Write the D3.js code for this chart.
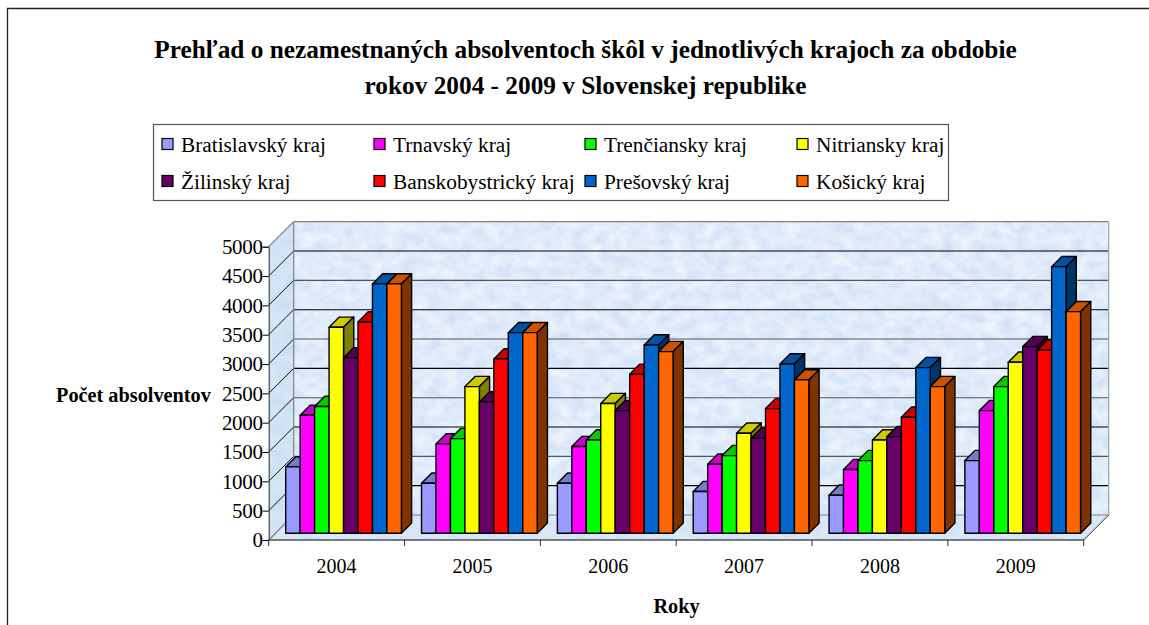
<!DOCTYPE html>
<html><head><meta charset="utf-8">
<script src="https://cdn.jsdelivr.net/npm/d3@7/dist/d3.min.js"></script>
<style>html,body{margin:0;padding:0;background:#fff}svg{display:block}text{font-family:"Liberation Serif",serif;fill:#000}</style>
</head><body><svg id="c" width="1149" height="625"></svg>
<script>
const years = ["2004","2005","2006","2007","2008","2009"];
const regions = ["Bratislavský kraj","Trnavský kraj","Trenčiansky kraj","Nitriansky kraj","Žilinský kraj","Banskobystrický kraj","Prešovský kraj","Košický kraj"];
const bratislavsky = [1130,852,852,710,648,1238];
const trnavsky = [2010,1522,1477,1176,1085,2090];
const trenciansky = [2160,1613,1590,1323,1238,2499];
const nitriansky = [3510,2499,2210,1704,1590,2914];
const zilinsky = [2990,2238,2090,1619,1647,3181];
const banskobystricky = [3600,2971,2709,2124,1977,3124];
const presovsky = [4250,3419,3209,2885,2823,4544];
const kosicky = [4250,3419,3096,2613,2499,3777];
const seriesValues = [bratislavsky,trnavsky,trenciansky,nitriansky,zilinsky,banskobystricky,presovsky,kosicky];
const frontColors = ["#9999ff","#ff00ff","#00ff00","#ffff00","#660066","#ff0000","#0066cc","#ff6600"];
const yTicks = [0,500,1000,1500,2000,2500,3000,3500,4000,4500,5000];

const svg = d3.select("#c");
const L=268.7,R=1083.7,B=540,T=246.7,DEPTH=25;
const y = d3.scaleLinear().domain([0,5000]).range([B,T]);
const x0 = d3.scaleBand().domain(years).range([L,R]);
const groupW = 115.7, barInset = 17;
const x1 = d3.scaleBand().domain(d3.range(8)).range([0,groupW]);
const FRONT=6.8, BACK=17;

// texture
const defs = svg.append("defs");
const f = defs.append("filter").attr("id","tex").attr("x",0).attr("y",0).attr("width","100%").attr("height","100%").attr("color-interpolation-filters","sRGB");
f.append("feTurbulence").attr("type","fractalNoise").attr("baseFrequency","0.07 0.09").attr("numOctaves",4).attr("seed",7).attr("result","n");
f.append("feColorMatrix").attr("in","n").attr("type","matrix").attr("values",
 "0.17 0.05 0 0 0.765  0.13 0 0 0 0.855  0.03 0 0 0 0.965  0 0 0 0 1");

const poly = pts => "M"+pts.map(p=>p.join(",")).join("L")+"Z";

// frame (top and left only)
svg.append("path").attr("d","M7.5,625V8.5H1149").attr("fill","none").attr("stroke","#222").attr("stroke-width",1.3);

const backX0=L+DEPTH, backX1=R+DEPTH;
// back wall
svg.append("rect").attr("x",backX0).attr("y",y(5000)-DEPTH).attr("width",backX1-backX0).attr("height",y(0)-y(5000)).attr("filter","url(#tex)");
// left wall & floor, same texture through a clip
const leftD = poly([[L,y(0)],[L,y(5000)],[backX0,y(5000)-DEPTH],[backX0,y(0)-DEPTH]]);
const floorD = poly([[L,y(0)],[R,y(0)],[backX1,y(0)-DEPTH],[backX0,y(0)-DEPTH]]);
defs.append("clipPath").attr("id","cl").append("path").attr("d",leftD);
defs.append("clipPath").attr("id","cf").append("path").attr("d",floorD);
svg.append("g").attr("clip-path","url(#cl)").append("rect").attr("x",L).attr("y",y(5000)-DEPTH).attr("width",DEPTH).attr("height",y(0)-y(5000)+DEPTH).attr("filter","url(#tex)");
svg.append("path").attr("d",leftD).attr("fill","#c4dcf0").attr("opacity",0.55);
svg.append("g").attr("clip-path","url(#cf)").append("rect").attr("x",L).attr("y",y(0)-DEPTH).attr("width",R-L+DEPTH).attr("height",DEPTH).attr("filter","url(#tex)");
svg.append("path").attr("d",floorD).attr("fill","#cfe3f5").attr("opacity",0.55);

// gridlines
yTicks.forEach((t,i)=>{
  const g = (i%2===0 && t!==5000 && t!==0) ? "#555" : "#000";
  if(t===0){
    svg.append("line").attr("x1",L).attr("y1",y(0)).attr("x2",R).attr("y2",y(0)).attr("stroke","#000").attr("stroke-width",1);
    svg.append("line").attr("x1",L).attr("y1",y(0)).attr("x2",backX0).attr("y2",y(0)-DEPTH).attr("stroke","#808080").attr("stroke-width",1.2);
    svg.append("line").attr("x1",backX0).attr("y1",y(0)-DEPTH).attr("x2",backX1).attr("y2",y(0)-DEPTH).attr("stroke","#808080").attr("stroke-width",1.2);
    svg.append("line").attr("x1",R).attr("y1",y(0)).attr("x2",backX1).attr("y2",y(0)-DEPTH).attr("stroke","#333").attr("stroke-width",1);
  } else if(t===5000){
    svg.append("line").attr("x1",L).attr("y1",y(t)).attr("x2",backX0).attr("y2",y(t)-DEPTH).attr("stroke","#808080").attr("stroke-width",1.2);
    svg.append("line").attr("x1",backX0).attr("y1",y(t)-DEPTH).attr("x2",backX1).attr("y2",y(t)-DEPTH).attr("stroke","#808080").attr("stroke-width",1.2);
  } else {
    svg.append("line").attr("x1",L).attr("y1",y(t)).attr("x2",backX0).attr("y2",y(t)-DEPTH).attr("stroke","#111").attr("stroke-width",1);
    svg.append("line").attr("x1",backX0).attr("y1",y(t)-DEPTH).attr("x2",backX1).attr("y2",y(t)-DEPTH).attr("stroke",g).attr("stroke-width",1.1);
  }
});
svg.append("line").attr("x1",backX0).attr("y1",y(5000)-DEPTH).attr("x2",backX0).attr("y2",y(0)-DEPTH).attr("stroke","#808080").attr("stroke-width",1.2);
svg.append("line").attr("x1",backX1).attr("y1",y(5000)-DEPTH).attr("x2",backX1).attr("y2",y(0)-DEPTH).attr("stroke","#a0a0a0").attr("stroke-width",1.2);

// bars
const bars = svg.append("g").attr("stroke","#000").attr("stroke-width",1.4).attr("stroke-linejoin","round");
years.forEach((yr,i)=>{
  seriesValues.forEach((vals,s)=>{
    const xa = x0(yr)+barInset+x1(s), xb = xa+x1.bandwidth();
    const v = vals[i], ft = y(v)-FRONT, fb = y(0)-FRONT, dd = BACK-FRONT;
    const col = d3.color(frontColors[s]);
    const g = bars.append("g");
    g.append("path").attr("d",poly([[xa,ft],[xb,ft],[xb+dd,ft-dd],[xa+dd,ft-dd]])).attr("fill",d3.rgb(col.r*.8,col.g*.8,col.b*.8));
    g.append("path").attr("d",poly([[xb,ft],[xb+dd,ft-dd],[xb+dd,fb-dd],[xb,fb]])).attr("fill",d3.rgb(col.r*.5,col.g*.5,col.b*.5));
    g.append("rect").attr("x",xa).attr("y",ft).attr("width",xb-xa).attr("height",fb-ft).attr("fill",col);
  });
});

// axes
const yAxis = d3.axisLeft(y).tickValues(yTicks).tickSize(6).tickFormat(d3.format("d"));
const ga = svg.append("g").attr("transform",`translate(${L},0)`).call(yAxis);
ga.select(".domain").attr("stroke","#333").attr("stroke-width",1);
ga.selectAll("line").attr("stroke","#000");
ga.selectAll("text").attr("font-size",21).attr("x",-6).attr("dy","0.33em").style("letter-spacing","-0.3px");
svg.append("g").selectAll("line").data(d3.range(7)).join("line")
  .attr("x1",d=>L+d*x0.bandwidth()).attr("x2",d=>L+d*x0.bandwidth()).attr("y1",B).attr("y2",B+6).attr("stroke","#333").attr("stroke-width",1);
svg.append("g").selectAll("text").data(years).join("text")
  .attr("x",d=>x0(d)+x0.bandwidth()/2).attr("y",573).attr("text-anchor","middle").attr("font-size",20).text(d=>d);

// titles
const title = ["Prehľad o nezamestnaných absolventoch škôl v jednotlivých krajoch za obdobie","rokov 2004 - 2009 v Slovenskej republike"];
svg.selectAll("text.t").data(title).join("text").attr("class","t").attr("x",585.5).attr("y",(d,i)=>[58,94][i])
 .attr("text-anchor","middle").attr("font-size",25.3).attr("font-weight","bold").text(d=>d);
svg.append("text").attr("x",56).attr("y",402).attr("font-size",20.3).attr("font-weight","bold").text("Počet absolventov");
svg.append("text").attr("x",676.5).attr("y",613).attr("text-anchor","middle").attr("font-size",20.3).attr("font-weight","bold").text("Roky");

// legend
svg.append("rect").attr("x",153.5).attr("y",124.5).attr("width",795).attr("height",76).attr("fill","#fff").attr("stroke","#555").attr("stroke-width",1.2);
const legX=[161,373,584,796], legY=[145,182];
regions.forEach((r,i)=>{
  const c=i%4, w=i<4?0:1;
  svg.append("rect").attr("x",legX[c]+1).attr("y",legY[w]-6.5).attr("width",11).attr("height",11).attr("fill",frontColors[i]).attr("stroke","#000").attr("stroke-width",1.2);
  svg.append("text").attr("x",legX[c]+20).attr("y",legY[w]+7).attr("font-size",21.3).text(r);
});
</script></body></html>
